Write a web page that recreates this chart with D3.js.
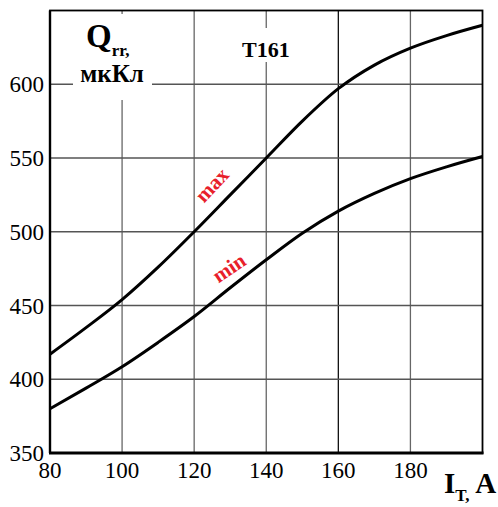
<!DOCTYPE html>
<html>
<head>
<meta charset="utf-8">
<script src="https://cdn.jsdelivr.net/npm/d3@7"></script>
<style>
  body { margin: 0; background: #fff; }
  text { font-family: "Liberation Serif", "DejaVu Serif", serif; }
</style>
</head>
<body>
<div id="chart"></div>
<script>
// data
var current = [80, 90, 100, 110, 120, 130, 140, 150, 160, 170, 180, 190, 200];
var qMax = [417, 435, 454, 476, 500, 525, 550, 575, 597, 613, 624.5, 633, 640];
var qMin = [380, 394, 408.5, 425, 442.5, 462, 481, 499, 514, 526, 536, 544, 551];
var xTicks = [80, 100, 120, 140, 160, 180];
var yTicks = [350, 400, 450, 500, 550, 600];

var width = 498, height = 507;
var mLeft = 50, mRight = 482.5, mTop = 10.5, mBottom = 453;

var svg = d3.select("#chart").append("svg")
    .attr("width", width)
    .attr("height", height);

var x = d3.scaleLinear().domain([80, 200]).range([mLeft, mRight]);
var y = d3.scaleLinear().domain([350, 650]).range([mBottom, mTop]);

// grid
svg.append("g").selectAll("line")
  .data(xTicks.slice(1))
  .enter().append("line")
    .attr("x1", function(d){ return x(d); })
    .attr("x2", function(d){ return x(d); })
    .attr("y1", mTop).attr("y2", mBottom)
    .attr("stroke", function(d){ return d == 160 ? "#111" : "#666"; })
    .attr("stroke-width", 1.3);

svg.append("g").selectAll("line")
  .data(yTicks.slice(1))
  .enter().append("line")
    .attr("x1", mLeft).attr("x2", mRight)
    .attr("y1", function(d){ return y(d); })
    .attr("y2", function(d){ return y(d); })
    .attr("stroke", "#555")
    .attr("stroke-width", 1.3);

// white boxes behind the labels
svg.append("rect").attr("x", 73).attr("y", 14).attr("width", 79).attr("height", 86).attr("fill", "#fff");
svg.append("rect").attr("x", 238).attr("y", 28).attr("width", 58).attr("height", 34).attr("fill", "#fff");

// frame
svg.append("rect")
    .attr("x", mLeft).attr("y", mTop)
    .attr("width", mRight - mLeft).attr("height", mBottom - mTop)
    .attr("fill", "none").attr("stroke", "#000").attr("stroke-width", 1.8);
svg.append("line")
    .attr("x1", mLeft - 1).attr("x2", mRight + 1)
    .attr("y1", mBottom).attr("y2", mBottom)
    .attr("stroke", "#000").attr("stroke-width", 3);
svg.append("line")
    .attr("x1", mLeft).attr("x2", mLeft)
    .attr("y1", mTop).attr("y2", mBottom)
    .attr("stroke", "#000").attr("stroke-width", 2.4);

// tick labels
svg.append("g").selectAll("text")
  .data(yTicks)
  .enter().append("text")
    .attr("x", 44)
    .attr("y", function(d){ return y(d) + 8; })
    .attr("text-anchor", "end")
    .attr("font-size", 23)
    .text(function(d){ return d; });

svg.append("g").selectAll("text")
  .data(xTicks)
  .enter().append("text")
    .attr("x", function(d){ return x(d); })
    .attr("y", 478)
    .attr("text-anchor", "middle")
    .attr("font-size", 23)
    .text(function(d){ return d; });

// curves
var line = d3.line()
    .x(function(d, i){ return x(current[i]); })
    .y(function(d){ return y(d); })
    .curve(d3.curveMonotoneX);

[qMax, qMin].forEach(function(s){
  svg.append("path")
      .attr("d", line(s))
      .attr("fill", "none")
      .attr("stroke", "#000")
      .attr("stroke-width", 3);
});

// labels
var qLabel = svg.append("text").attr("x", 86).attr("y", 47)
    .attr("font-weight", "bold").attr("font-size", 33);
qLabel.append("tspan").text("Q");
qLabel.append("tspan").attr("font-size", 17).attr("dy", 9).text("rr,");
svg.append("text").attr("x", 112).attr("y", 82)
    .attr("text-anchor", "middle")
    .attr("font-weight", "bold").attr("font-size", 25)
    .text("мкКл");

svg.append("text").attr("x", 242).attr("y", 57)
    .attr("font-weight", "bold").attr("font-size", 22)
    .text("T161");

var iLabel = svg.append("text").attr("x", 444).attr("y", 493)
    .attr("font-weight", "bold").attr("font-size", 29);
iLabel.append("tspan").text("I");
iLabel.append("tspan").attr("font-size", 17).attr("dy", 8).text("T,");
iLabel.append("tspan").attr("dy", -8).text(" A");

svg.append("text")
    .attr("transform", "translate(212,185) rotate(-47)")
    .attr("text-anchor", "middle")
    .attr("dy", 7)
    .attr("font-weight", "bold").attr("font-size", 21)
    .attr("fill", "#e8202a")
    .text("max");

svg.append("text")
    .attr("transform", "translate(229,268) rotate(-34)")
    .attr("text-anchor", "middle")
    .attr("dy", 7)
    .attr("font-weight", "bold").attr("font-size", 21)
    .attr("fill", "#e8202a")
    .text("min");
</script>
</body>
</html>
